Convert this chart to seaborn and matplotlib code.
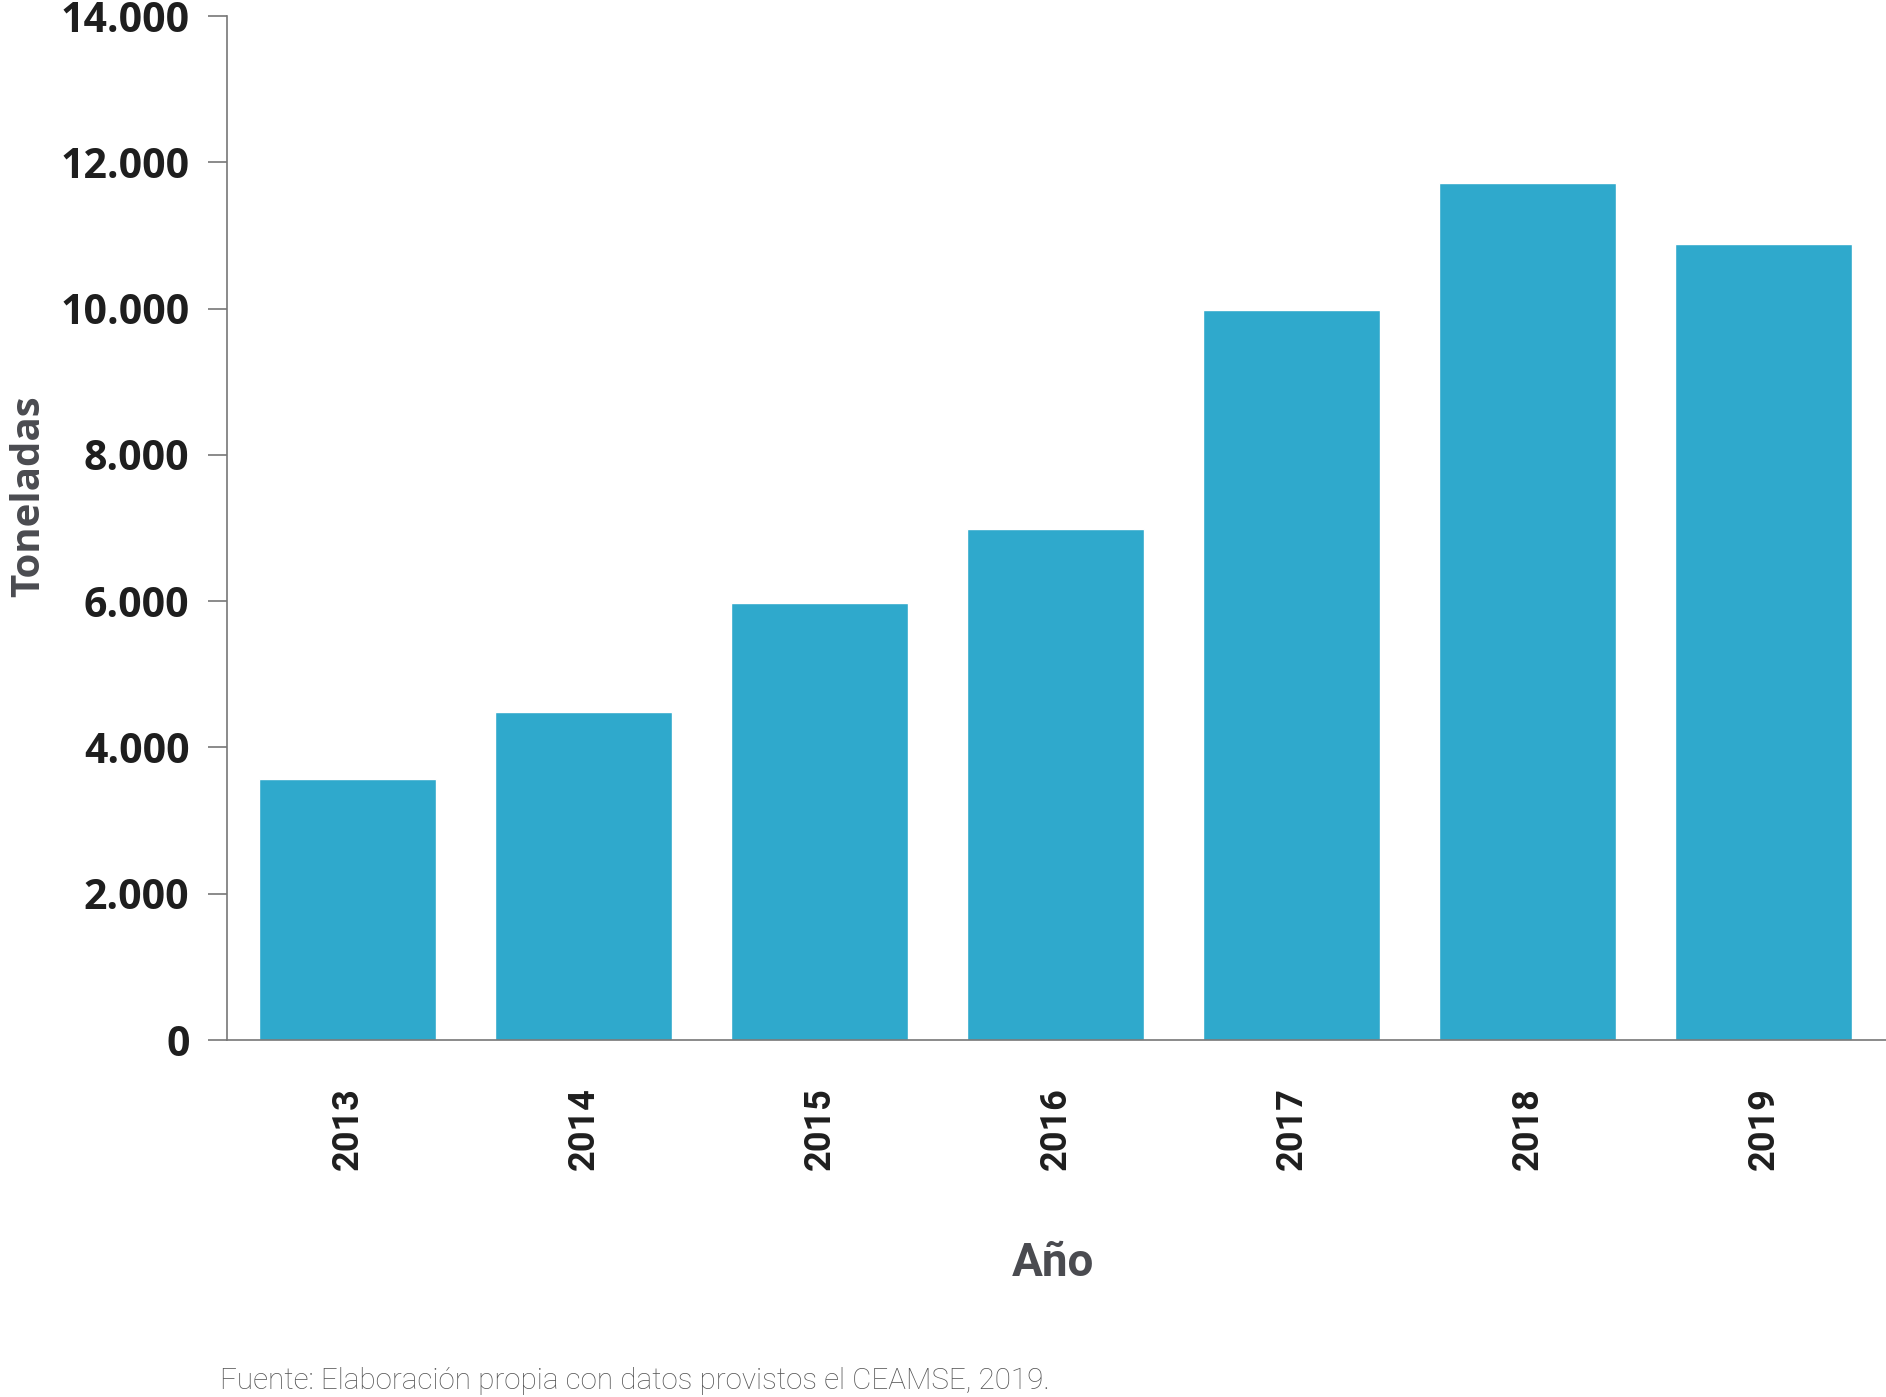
import matplotlib
matplotlib.use("Agg")
import seaborn as sns
import matplotlib.pyplot as plt
import pandas as pd

# data
years = ["2013", "2014", "2015", "2016", "2017", "2018", "2019"]
toneladas = [3570, 4480, 5980, 6990, 9980, 11720, 10880]
yticks = [0, 2000, 4000, 6000, 8000, 10000, 12000, 14000]
ytick_labels = ["0", "2.000", "4.000", "6.000", "8.000", "10.000", "12.000", "14.000"]

df = pd.DataFrame({"Año": years, "Toneladas": toneladas})

sns.set_style("white")

fig = plt.figure(figsize=(18.86, 13.97), dpi=100)
ax = fig.add_axes([227 / 1886, 1 - 1040 / 1397, 1 - 227 / 1886, (1040 - 16) / 1397])

sns.barplot(data=df, x="Año", y="Toneladas", color="#2fa9cc", saturation=1,
            width=0.75, ax=ax)

ax.set_xlim(-0.51, 6.52)
ax.set_ylim(0, 14000)
ax.set_yticks(yticks)
ax.set_yticklabels(ytick_labels, fontfamily="Open Sans", fontweight="bold",
                   fontsize=29.5, color="#1e1e1e")
ax.set_xticks(range(len(years)))
ax.set_xticklabels(years, rotation=90, fontfamily="Roboto", fontweight="bold",
                   fontsize=26, color="#1e1e1e", va="top")

sns.despine(ax=ax)
for side in ["left", "bottom"]:
    ax.spines[side].set_color("#777777")
    ax.spines[side].set_linewidth(1.2)

ax.tick_params(axis="y", direction="out", length=14, width=1.2, color="#777777", pad=13, left=True)
ax.tick_params(axis="x", length=0, pad=34)

ax.set_ylabel("Toneladas", fontfamily="Open Sans", fontweight="bold", fontsize=29,
              color="#4a4b50")
ax.yaxis.set_label_coords(-0.108, 0.531)
ax.set_xlabel("Año", fontfamily="Roboto", fontweight="bold", fontsize=33, color="#4a4b50")
ax.xaxis.set_label_coords(0.498, -0.196)

fig.text(220 / 1886, 1 - 1381 / 1397, "Fuente: Elaboración propia con datos provistos el CEAMSE, 2019.",
         fontfamily="Roboto", fontweight="light", fontsize=21.3, color="#555555",
         ha="left", va="center")

fig.savefig("out.png", dpi=100)
